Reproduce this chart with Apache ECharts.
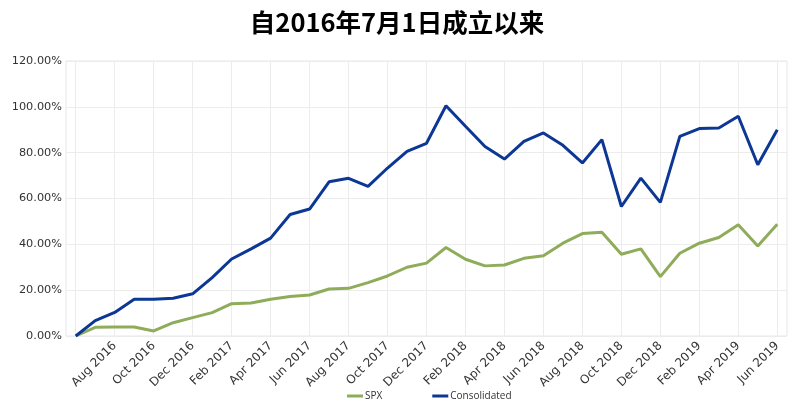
<!DOCTYPE html>
<html>
<head>
<meta charset="utf-8">
<script src="https://cdn.jsdelivr.net/npm/echarts@6/dist/echarts.min.js"></script>
<style>
  html, body { margin: 0; padding: 0; background: #fff; }
  #chart { width: 794px; height: 404px; }
</style>
</head>
<body>
<div id="chart"></div>
<script>
// inception point first, then month ends
const months = ['1 Jul 2016',
  'Jul 2016', 'Aug 2016', 'Sep 2016', 'Oct 2016', 'Nov 2016', 'Dec 2016',
  'Jan 2017', 'Feb 2017', 'Mar 2017', 'Apr 2017', 'May 2017', 'Jun 2017',
  'Jul 2017', 'Aug 2017', 'Sep 2017', 'Oct 2017', 'Nov 2017', 'Dec 2017',
  'Jan 2018', 'Feb 2018', 'Mar 2018', 'Apr 2018', 'May 2018', 'Jun 2018',
  'Jul 2018', 'Aug 2018', 'Sep 2018', 'Oct 2018', 'Nov 2018', 'Dec 2018',
  'Jan 2019', 'Feb 2019', 'Mar 2019', 'Apr 2019', 'May 2019', 'Jun 2019']

const spx = [0,
  3.8, 3.9, 3.9, 2.2, 5.8, 8.0,
  10.2, 14.1, 14.4, 16.0, 17.2, 17.9,
  20.5, 20.8, 23.3, 26.2, 30.0, 31.8,
  38.6, 33.5, 30.6, 31.0, 33.9, 35.0,
  40.5, 44.7, 45.3, 35.7, 38.0, 25.9,
  36.1, 40.5, 43.0, 48.5, 39.3, 48.8]

const consolidated = [0,
  6.7, 10.3, 16.0, 16.0, 16.5, 18.4,
  25.5, 33.6, 38.0, 42.7, 53.0, 55.4,
  67.3, 68.8, 65.3, 73.3, 80.6, 84.1,
  100.5, 91.5, 82.7, 77.2, 84.9, 88.6,
  83.2, 75.5, 85.7, 56.5, 68.9, 58.3,
  87.1, 90.5, 90.8, 95.9, 74.7, 90.0]

const chart = echarts.init(document.getElementById('chart'))

chart.setOption({
  backgroundColor: '#fff',
  animation: false,
  title: {
    text: '自2016年7月1日成立以来',
    left: 'center',
    top: 5,
    textStyle: {
      fontFamily: 'Noto Sans CJK SC',
      fontWeight: 'bold',
      fontSize: 25.5,
      color: '#000',
    },
  },
  legend: {
    top: 386,
    left: 342,
    itemWidth: 16,
    itemHeight: 3,
    itemGap: 50,
    icon: 'rect',
    textStyle: { fontFamily: 'Open Sans', fontSize: 10, color: '#333', padding: [0, 0, 0, -3] },
    data: ['SPX', 'Consolidated'],
  },
  grid: {
    left: 66,
    right: 7,
    top: 61,
    bottom: 68,
    show: true,
    borderColor: '#e6e6e6',
    borderWidth: 1,
  },
  xAxis: {
    type: 'category',
    data: months,
    boundaryGap: true,
    axisLine: { show: false },
    axisTick: { show: false },
    axisLabel: {
      rotate: 45,
      interval: (i) => i > 0 && i % 2 === 0,
      fontFamily: 'DejaVu Sans',
      fontSize: 12,
      color: '#333',
      margin: 8,
    },
    splitLine: {
      show: true,
      interval: 1,
      alignWithLabel: true,
      lineStyle: { color: '#ececec', width: 1 },
    },
  },
  yAxis: {
    type: 'value',
    min: 0,
    max: 120,
    interval: 20,
    axisLine: { show: false },
    axisTick: { show: false },
    axisLabel: {
      formatter: (v) => v.toFixed(2) + '%',
      fontFamily: 'DejaVu Sans',
      fontSize: 11.3,
      color: '#333',
      margin: 4,
    },
    splitLine: { lineStyle: { color: '#ececec', width: 1 } },
  },
  series: [
    {
      name: 'SPX',
      type: 'line',
      data: spx,
      symbol: 'none',
      color: '#8fac5a',
      lineStyle: { width: 3, color: '#8fac5a' },
    },
    {
      name: 'Consolidated',
      type: 'line',
      data: consolidated,
      symbol: 'none',
      color: '#0d3795',
      lineStyle: { width: 3, color: '#0d3795' },
    },
  ],
})
</script>
</body>
</html>
